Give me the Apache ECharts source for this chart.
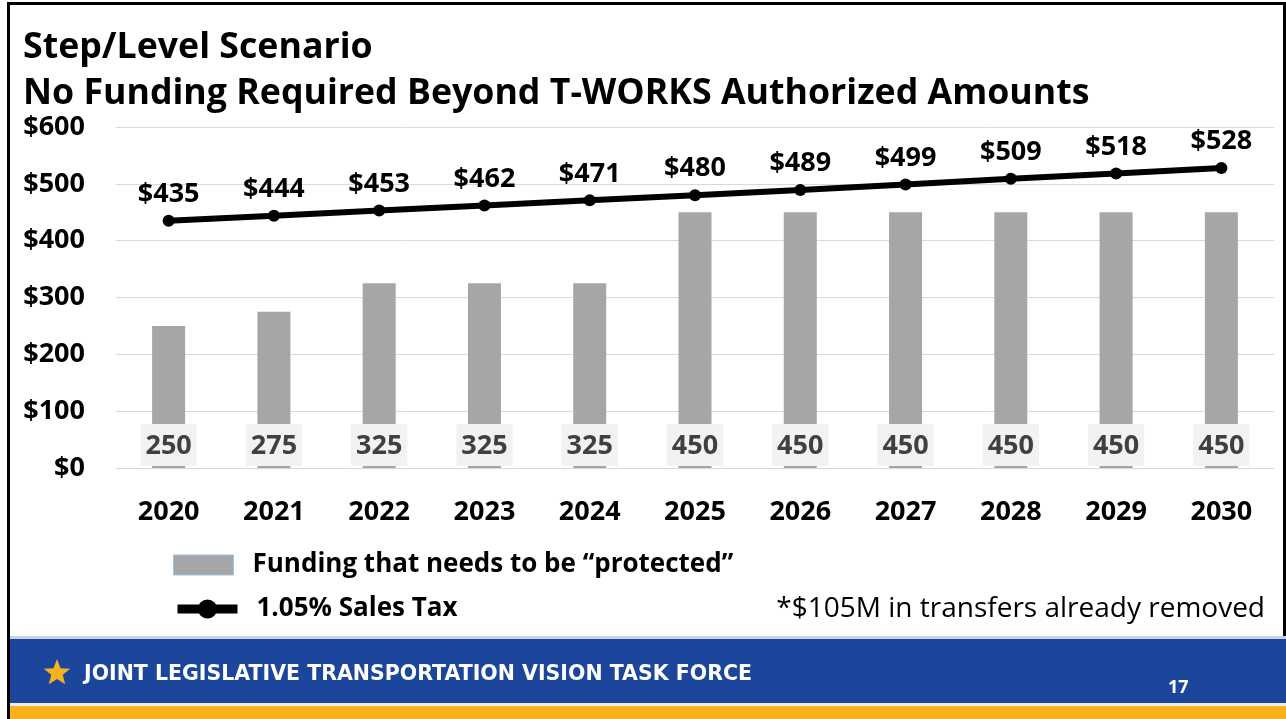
<!DOCTYPE html>
<html>
<head>
<meta charset="utf-8">
<script src="https://cdn.jsdelivr.net/npm/echarts@6/dist/echarts.min.js"></script>
<style>
  html, body { margin: 0; padding: 0; background: #fff; }
  #main { width: 1286px; height: 719px; }
</style>
</head>
<body>
<div id="main"></div>
<script>
  var years = ['2020', '2021', '2022', '2023', '2024', '2025', '2026', '2027', '2028', '2029', '2030'];
  var protectedFunding = [250, 275, 325, 325, 325, 450, 450, 450, 450, 450, 450];
  var salesTax = [435, 444, 453, 462, 471, 480, 489, 499, 509, 518, 528];
  var yTicks = [0, 100, 200, 300, 400, 500, 600];

  var font = '"Open Sans", "Noto Sans", sans-serif';

  // star for the footer
  function starPoints(cx, cy, R, r) {
    var pts = [];
    for (var i = 0; i < 10; i++) {
      var a = -Math.PI / 2 + i * Math.PI / 5;
      var rad = i % 2 === 0 ? R : r;
      pts.push([cx + rad * Math.cos(a), cy + rad * Math.sin(a)]);
    }
    return pts;
  }

  var chart = echarts.init(document.getElementById('main'));
  chart.setOption({
    animation: false,
    textStyle: { fontFamily: font },
    title: {
      text: 'Step/Level Scenario\nNo Funding Required Beyond T-WORKS Authorized Amounts',
      left: 18,
      top: 20,
      textStyle: { fontSize: 35.7, fontWeight: 'bold', color: '#000', lineHeight: 46, fontFamily: font }
    },
    legend: [
      {
        data: ['Funding that needs to be \u201cprotected\u201d'],
        left: 173,
        top: 552,
        padding: 0,
        itemWidth: 60,
        itemHeight: 20,
        icon: 'rect',
        itemStyle: { borderColor: '#9dc3e6', borderWidth: 1 },
        textStyle: { fontSize: 26, fontWeight: 'bold', color: '#000', padding: [0, 0, 0, 14] }
      },
      {
        data: ['1.05% Sales Tax'],
        left: 173,
        top: 596,
        padding: 0,
        itemWidth: 60,
        itemHeight: 24,
        lineStyle: { width: 9 },
        textStyle: { fontSize: 26, fontWeight: 'bold', color: '#000', padding: [0, 0, 0, 14] }
      }
    ],
    grid: { left: 116, right: 12, top: 127, bottom: 251 },
    xAxis: {
      type: 'category',
      data: years,
      axisLine: { lineStyle: { color: '#d9d9d9', width: 1 } },
      axisTick: { show: false },
      axisLabel: { fontSize: 27, fontWeight: 'bold', color: '#000', margin: 31 }
    },
    yAxis: {
      type: 'value',
      min: yTicks[0],
      max: yTicks[yTicks.length - 1],
      interval: 100,
      axisLine: { show: false },
      axisTick: { show: false },
      splitLine: { lineStyle: { color: '#d9d9d9', width: 1 } },
      axisLabel: {
        fontSize: 27, fontWeight: 'bold', color: '#000', margin: 31,
        formatter: function (v) { return '$' + v; }
      }
    },
    series: [
      {
        name: 'Funding that needs to be \u201cprotected\u201d',
        type: 'bar',
        data: protectedFunding,
        barWidth: 33,
        itemStyle: { color: '#a6a6a6' },
        label: {
          show: true,
          position: 'insideBottom',
          distance: 2,
          fontSize: 27,
          fontWeight: 'bold',
          color: '#404040',
          backgroundColor: '#f2f2f2',
          padding: [9, 5, 6, 5]
        }
      },
      {
        name: '1.05% Sales Tax',
        type: 'line',
        data: salesTax,
        symbol: 'circle',
        symbolSize: 12,
        lineStyle: { color: '#000', width: 6 },
        itemStyle: { color: '#000' },
        label: {
          show: true,
          position: 'top',
          distance: 7,
          fontSize: 27,
          fontWeight: 'bold',
          color: '#000',
          formatter: function (p) { return '$' + p.value; }
        },
        z: 3
      }
    ],
    graphic: [
      // slide frame
      { type: 'rect', shape: { x: 7, y: 2, width: 1279, height: 3 }, style: { fill: '#000' } },
      { type: 'rect', shape: { x: 7, y: 2, width: 3, height: 717 }, style: { fill: '#000' } },
      { type: 'rect', shape: { x: 1283, y: 2, width: 3, height: 636 }, style: { fill: '#000' } },
      // note
      {
        type: 'text', right: 21, top: 595,
        style: { text: '*$105M in transfers already removed', fontSize: 28, fontFamily: font, fill: '#000' }
      },
      // footer
      { type: 'rect', shape: { x: 10, y: 636, width: 1276, height: 3 }, style: { fill: '#c9d3e6' } },
      { type: 'rect', shape: { x: 10, y: 639, width: 1276, height: 64 }, style: { fill: '#1b469c' } },
      { type: 'rect', shape: { x: 10, y: 703, width: 1276, height: 3 }, style: { fill: '#e8ecf4' } },
      { type: 'rect', shape: { x: 10, y: 706, width: 1276, height: 13 }, style: { fill: '#fbb11b' } },
      { type: 'polygon', shape: { points: starPoints(57, 673, 14, 6) }, style: { fill: '#f9b21f' } },
      {
        type: 'text', left: 84, top: 664,
        style: { text: 'JOINT LEGISLATIVE TRANSPORTATION VISION TASK FORCE', fontSize: 20.5, fontWeight: 'bold', fontFamily: '"DejaVu Sans", sans-serif', fill: '#fff' }
      },
      {
        type: 'text', left: 1168, top: 679,
        style: { text: '17', fontSize: 18, fontWeight: 'bold', fontFamily: font, fill: '#fff' }
      }
    ]
  });
</script>
</body>
</html>
